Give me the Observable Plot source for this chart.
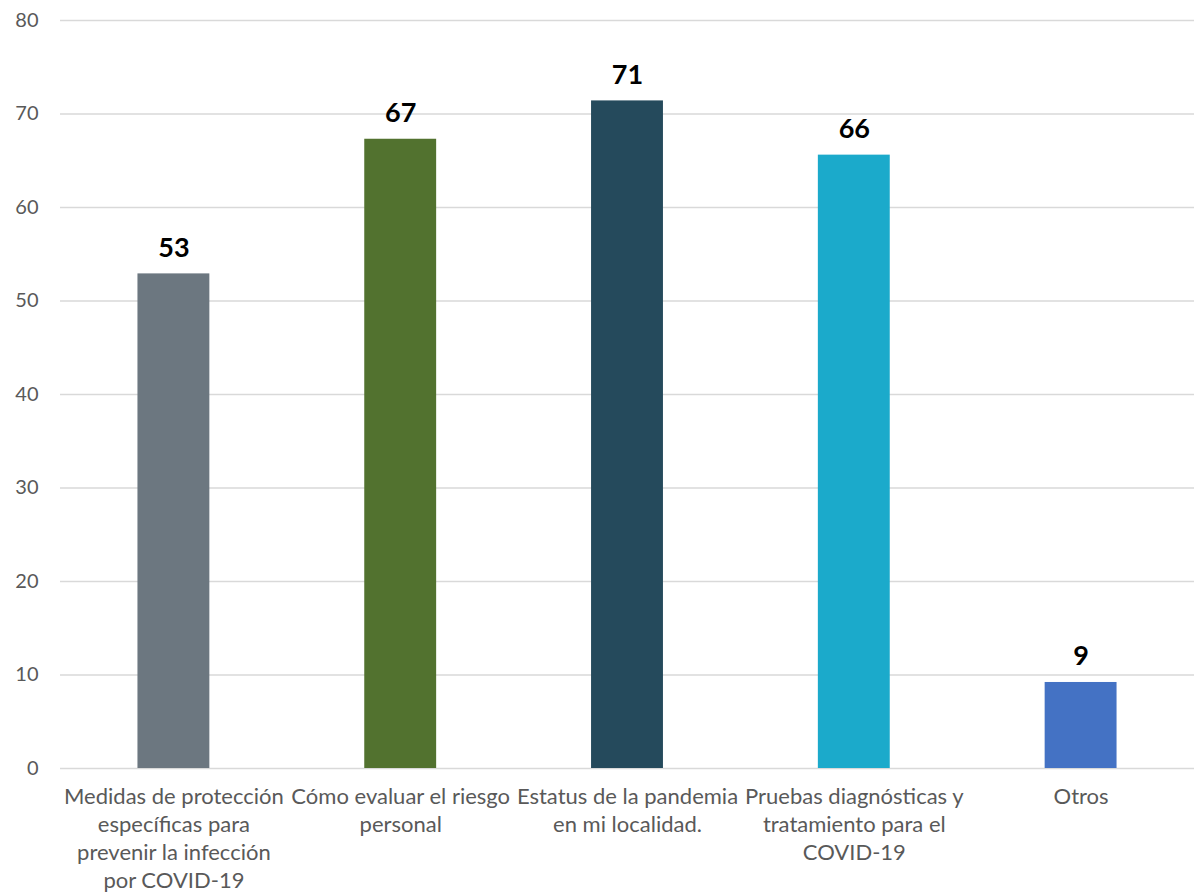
<!DOCTYPE html>
<html>
<head>
<meta charset="utf-8">
<script src="https://cdn.jsdelivr.net/npm/d3@7"></script>
<script src="https://cdn.jsdelivr.net/npm/@observablehq/plot@0.6"></script>
<style>
  html, body { margin: 0; padding: 0; background: #fff; }
  #chart svg { display: block; }
</style>
</head>
<body>
<div id="chart"></div>
<script>
const categories = [
  "Medidas de protección\nespecíficas para\nprevenir la infección\npor COVID-19",
  "Cómo evaluar el riesgo\npersonal",
  "Estatus de la pandemia\nen mi localidad.",
  "Pruebas diagnósticas y\ntratamiento para el\nCOVID-19",
  "Otros"
];
const values = [52.9, 67.3, 71.4, 65.6, 9.2];
const labels = ["53", "67", "71", "66", "9"];
const colors = ["#6C7780", "#52722F", "#254A5C", "#1BAACB", "#4472C4"];
const yTicks = [0, 10, 20, 30, 40, 50, 60, 70, 80];

const data = categories.map((c, i) => ({cat: c, value: values[i], label: labels[i], color: colors[i]}));

const chart = Plot.plot({
  width: 1194,
  height: 895,
  marginTop: 20,
  marginBottom: 127,
  marginLeft: 60,
  marginRight: 0,
  style: {fontFamily: "Lato, 'Open Sans', sans-serif", fontSize: "19px", color: "#595959", background: "#fff"},
  x: {domain: categories, paddingInner: 0.683, paddingOuter: 0.3415, round: false, label: null},
  y: {domain: [0, 80], ticks: yTicks, label: null},
  marks: [
    Plot.gridY(yTicks, {stroke: "#d9d9d9", strokeOpacity: 1, strokeWidth: 1.5}),
    Plot.barY(data, {x: "cat", y: "value", fill: "color"}),
    Plot.text(data, {x: "cat", y: "value", text: "label", dy: -17, lineAnchor: "bottom",
      fontSize: 27, fontWeight: "bold", fill: "#000"}),
    Plot.axisX({tickSize: 0, tickPadding: 16, lineHeight: 1.27, fontSize: 22, fill: "#595959", label: null}),
    Plot.axisY({ticks: yTicks, tickSize: 0, tickPadding: 22, fontSize: 20, fill: "#595959", label: null})
  ]
});
document.getElementById("chart").appendChild(chart);
</script>
</body>
</html>
